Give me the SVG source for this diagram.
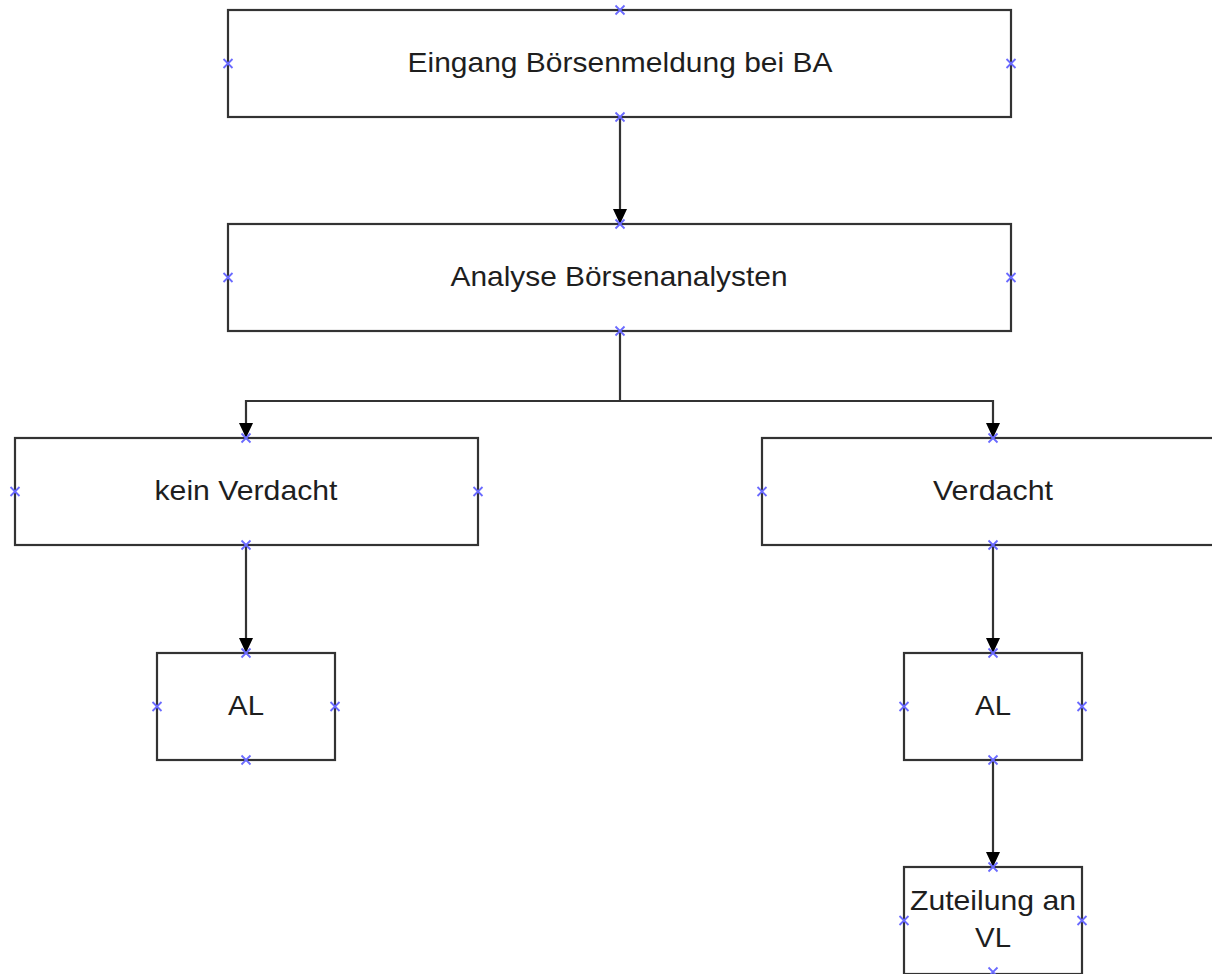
<svg xmlns="http://www.w3.org/2000/svg" width="1212" height="974" viewBox="0 0 1212 974">
<style>
.box{fill:#fff;stroke:#333;stroke-width:2.2}
.lbl{font-family:"Liberation Sans",Arial,sans-serif;font-size:28px;fill:#1e1e1e;text-anchor:middle}
.con{fill:none;stroke:#333;stroke-width:2.2}
.cx{stroke:#6a6aff;stroke-width:1.8;fill:none}
</style>
<defs>
<marker id="arr" markerUnits="userSpaceOnUse" markerWidth="16" markerHeight="16" refX="15" refY="7" orient="auto">
<path d="M0,0 L15,7 L0,14 Z" fill="#000"/>
</marker>
<path id="x" class="cx" d="M-4.5,-4.5 L4.5,4.5 M-4.5,4.5 L4.5,-4.5"/>
</defs>
<rect width="1212" height="974" fill="#fff"/>
<g id="connectors">
<path class="con" d="M620,117 L620,224" marker-end="url(#arr)"/>
<path class="con" d="M620,331 L620,401 L246,401 L246,438" marker-end="url(#arr)"/>
<path class="con" d="M620,401 L993,401 L993,438" marker-end="url(#arr)"/>
<path class="con" d="M246,545 L246,653" marker-end="url(#arr)"/>
<path class="con" d="M993,545 L993,653" marker-end="url(#arr)"/>
<path class="con" d="M993,760 L993,867" marker-end="url(#arr)"/>
</g>
<g id="n1">
<rect class="box" x="228" y="10" width="783" height="107"/>
<text class="lbl" x="620" y="72" textLength="425" lengthAdjust="spacingAndGlyphs">Eingang Börsenmeldung bei BA</text>
<use href="#x" x="620" y="10"/><use href="#x" x="228" y="63.5"/><use href="#x" x="1011" y="63.5"/><use href="#x" x="620" y="117"/>
</g>
<g id="n2">
<rect class="box" x="228" y="224" width="783" height="107"/>
<text class="lbl" x="619" y="286" textLength="337" lengthAdjust="spacingAndGlyphs">Analyse Börsenanalysten</text>
<use href="#x" x="620" y="224"/><use href="#x" x="228" y="277.5"/><use href="#x" x="1011" y="277.5"/><use href="#x" x="620" y="331"/>
</g>
<g id="n3">
<rect class="box" x="15" y="438" width="463" height="107"/>
<text class="lbl" x="246" y="500" textLength="183" lengthAdjust="spacingAndGlyphs">kein Verdacht</text>
<use href="#x" x="246" y="438"/><use href="#x" x="15" y="491.5"/><use href="#x" x="478" y="491.5"/><use href="#x" x="246" y="545"/>
</g>
<g id="n4">
<rect class="box" x="762" y="438" width="462" height="107"/>
<text class="lbl" x="993" y="500" textLength="120" lengthAdjust="spacingAndGlyphs">Verdacht</text>
<use href="#x" x="993" y="438"/><use href="#x" x="762" y="491.5"/><use href="#x" x="993" y="545"/>
</g>
<g id="n5">
<rect class="box" x="157" y="653" width="178" height="107"/>
<text class="lbl" x="246" y="715" textLength="36" lengthAdjust="spacingAndGlyphs">AL</text>
<use href="#x" x="246" y="653"/><use href="#x" x="157" y="706.5"/><use href="#x" x="335" y="706.5"/><use href="#x" x="246" y="760"/>
</g>
<g id="n6">
<rect class="box" x="904" y="653" width="178" height="107"/>
<text class="lbl" x="993" y="715" textLength="36" lengthAdjust="spacingAndGlyphs">AL</text>
<use href="#x" x="993" y="653"/><use href="#x" x="904" y="706.5"/><use href="#x" x="1082" y="706.5"/><use href="#x" x="993" y="760"/>
</g>
<g id="n7">
<rect class="box" x="904" y="867" width="178" height="107"/>
<text class="lbl" x="993" y="910" textLength="166" lengthAdjust="spacingAndGlyphs">Zuteilung an</text>
<text class="lbl" x="993" y="947" textLength="36" lengthAdjust="spacingAndGlyphs">VL</text>
<use href="#x" x="993" y="867"/><use href="#x" x="904" y="920.5"/><use href="#x" x="1082" y="920.5"/><use href="#x" x="993" y="972"/>
</g>
</svg>
